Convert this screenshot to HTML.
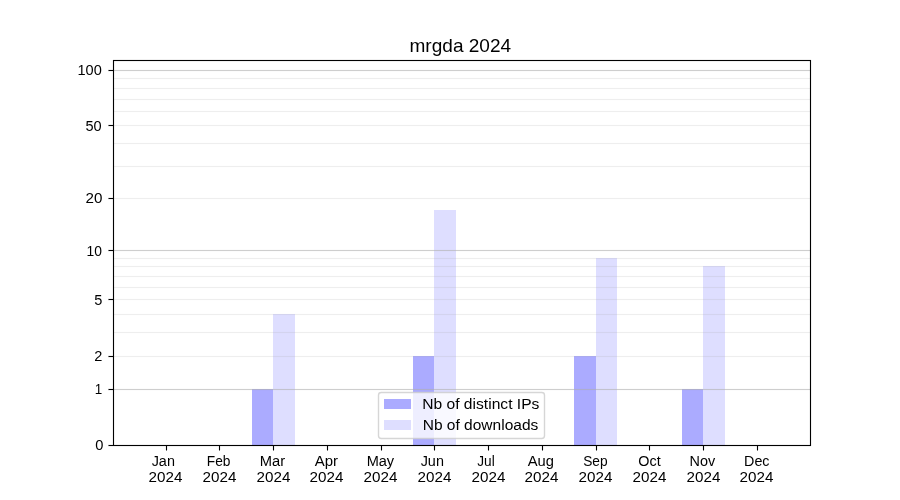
<!DOCTYPE html>
<html lang="en">
<head>
<meta charset="utf-8">
<title>mrgda 2024</title>
<style>
html,body{margin:0;padding:0;background:#fff}
body{position:relative;width:900px;height:500px;overflow:hidden;font-family:"Liberation Sans",sans-serif;color:#000}
#chart{position:absolute;left:0;top:0;display:block}
.t{position:absolute;left:0;top:0;margin:0;white-space:pre;line-height:1;transform-origin:0 0;font-weight:400}
#labels{position:absolute;left:0;top:0;width:900px;height:500px;will-change:transform}
.f14{font-size:14px}
.f17{font-size:17px}
</style>
</head>
<body>
<svg id="chart" width="900" height="500" viewBox="0 0 900 500">
<rect x="0" y="0" width="900" height="500" fill="#fff"/>
<g shape-rendering="crispEdges" fill="#0000ff">
<g fill-opacity="0.33">
<rect x="252" y="389" width="21" height="56"/>
<rect x="413" y="356" width="21" height="89"/>
<rect x="574" y="356" width="22" height="89"/>
<rect x="682" y="389" width="21" height="56"/>
</g>
<g fill-opacity="0.13">
<rect x="273" y="314" width="22" height="131"/>
<rect x="434" y="210" width="22" height="235"/>
<rect x="596" y="258" width="21" height="187"/>
<rect x="703" y="266" width="22" height="179"/>
</g>
</g>
<g shape-rendering="crispEdges" fill="#b0b0b0">
<g fill-opacity="0.6">
<rect x="113" y="70" width="698" height="1"/>
<rect x="113" y="250" width="698" height="1"/>
<rect x="113" y="389" width="698" height="1"/>
</g>
<g fill-opacity="0.035">
<rect x="113" y="69" width="698" height="3"/>
<rect x="113" y="249" width="698" height="3"/>
<rect x="113" y="388" width="698" height="3"/>
</g>
<g fill-opacity="0.2">
<rect x="113" y="78" width="698" height="1"/>
<rect x="113" y="88" width="698" height="1"/>
<rect x="113" y="99" width="698" height="1"/>
<rect x="113" y="111" width="698" height="1"/>
<rect x="113" y="125" width="698" height="1"/>
<rect x="113" y="143" width="698" height="1"/>
<rect x="113" y="166" width="698" height="1"/>
<rect x="113" y="198" width="698" height="1"/>
<rect x="113" y="258" width="698" height="1"/>
<rect x="113" y="266" width="698" height="1"/>
<rect x="113" y="276" width="698" height="1"/>
<rect x="113" y="287" width="698" height="1"/>
<rect x="113" y="299" width="698" height="1"/>
<rect x="113" y="314" width="698" height="1"/>
<rect x="113" y="332" width="698" height="1"/>
<rect x="113" y="356" width="698" height="1"/>
</g>
<g fill-opacity="0.012">
<rect x="113" y="77" width="698" height="3"/>
<rect x="113" y="87" width="698" height="3"/>
<rect x="113" y="98" width="698" height="3"/>
<rect x="113" y="110" width="698" height="3"/>
<rect x="113" y="124" width="698" height="3"/>
<rect x="113" y="142" width="698" height="3"/>
<rect x="113" y="165" width="698" height="3"/>
<rect x="113" y="197" width="698" height="3"/>
<rect x="113" y="257" width="698" height="3"/>
<rect x="113" y="265" width="698" height="3"/>
<rect x="113" y="275" width="698" height="3"/>
<rect x="113" y="286" width="698" height="3"/>
<rect x="113" y="298" width="698" height="3"/>
<rect x="113" y="313" width="698" height="3"/>
<rect x="113" y="331" width="698" height="3"/>
<rect x="113" y="355" width="698" height="3"/>
</g>
</g>
<g shape-rendering="crispEdges" fill="#000">
<rect x="166" y="445" width="1" height="5"/><rect x="166" y="450" width="1" height="1" fill-opacity="0.5"/><rect x="165" y="445" width="3" height="5" fill-opacity="0.055"/>
<rect x="219" y="445" width="1" height="5"/><rect x="219" y="450" width="1" height="1" fill-opacity="0.5"/><rect x="218" y="445" width="3" height="5" fill-opacity="0.055"/>
<rect x="273" y="445" width="1" height="5"/><rect x="273" y="450" width="1" height="1" fill-opacity="0.5"/><rect x="272" y="445" width="3" height="5" fill-opacity="0.055"/>
<rect x="327" y="445" width="1" height="5"/><rect x="327" y="450" width="1" height="1" fill-opacity="0.5"/><rect x="326" y="445" width="3" height="5" fill-opacity="0.055"/>
<rect x="381" y="445" width="1" height="5"/><rect x="381" y="450" width="1" height="1" fill-opacity="0.5"/><rect x="380" y="445" width="3" height="5" fill-opacity="0.055"/>
<rect x="434" y="445" width="1" height="5"/><rect x="434" y="450" width="1" height="1" fill-opacity="0.5"/><rect x="433" y="445" width="3" height="5" fill-opacity="0.055"/>
<rect x="488" y="445" width="1" height="5"/><rect x="488" y="450" width="1" height="1" fill-opacity="0.5"/><rect x="487" y="445" width="3" height="5" fill-opacity="0.055"/>
<rect x="542" y="445" width="1" height="5"/><rect x="542" y="450" width="1" height="1" fill-opacity="0.5"/><rect x="541" y="445" width="3" height="5" fill-opacity="0.055"/>
<rect x="596" y="445" width="1" height="5"/><rect x="596" y="450" width="1" height="1" fill-opacity="0.5"/><rect x="595" y="445" width="3" height="5" fill-opacity="0.055"/>
<rect x="649" y="445" width="1" height="5"/><rect x="649" y="450" width="1" height="1" fill-opacity="0.5"/><rect x="648" y="445" width="3" height="5" fill-opacity="0.055"/>
<rect x="703" y="445" width="1" height="5"/><rect x="703" y="450" width="1" height="1" fill-opacity="0.5"/><rect x="702" y="445" width="3" height="5" fill-opacity="0.055"/>
<rect x="757" y="445" width="1" height="5"/><rect x="757" y="450" width="1" height="1" fill-opacity="0.5"/><rect x="756" y="445" width="3" height="5" fill-opacity="0.055"/>
<rect x="109" y="70" width="4" height="1"/><rect x="108" y="70" width="1" height="1" fill-opacity="0.5"/><rect x="108" y="69" width="5" height="3" fill-opacity="0.055"/>
<rect x="109" y="125" width="4" height="1"/><rect x="108" y="125" width="1" height="1" fill-opacity="0.5"/><rect x="108" y="124" width="5" height="3" fill-opacity="0.055"/>
<rect x="109" y="198" width="4" height="1"/><rect x="108" y="198" width="1" height="1" fill-opacity="0.5"/><rect x="108" y="197" width="5" height="3" fill-opacity="0.055"/>
<rect x="109" y="250" width="4" height="1"/><rect x="108" y="250" width="1" height="1" fill-opacity="0.5"/><rect x="108" y="249" width="5" height="3" fill-opacity="0.055"/>
<rect x="109" y="299" width="4" height="1"/><rect x="108" y="299" width="1" height="1" fill-opacity="0.5"/><rect x="108" y="298" width="5" height="3" fill-opacity="0.055"/>
<rect x="109" y="356" width="4" height="1"/><rect x="108" y="356" width="1" height="1" fill-opacity="0.5"/><rect x="108" y="355" width="5" height="3" fill-opacity="0.055"/>
<rect x="109" y="389" width="4" height="1"/><rect x="108" y="389" width="1" height="1" fill-opacity="0.5"/><rect x="108" y="388" width="5" height="3" fill-opacity="0.055"/>
<rect x="109" y="445" width="4" height="1"/><rect x="108" y="445" width="1" height="1" fill-opacity="0.5"/><rect x="108" y="444" width="5" height="3" fill-opacity="0.055"/>
<g fill-opacity="0.058"><rect x="113" y="59" width="698" height="1"/><rect x="114" y="61" width="696" height="1"/><rect x="114" y="444" width="696" height="1"/><rect x="113" y="446" width="698" height="1"/><rect x="112" y="60" width="1" height="386"/><rect x="114" y="61" width="1" height="384"/><rect x="809" y="61" width="1" height="384"/><rect x="811" y="60" width="1" height="386"/></g>
<rect x="113" y="60" width="698" height="1"/><rect x="113" y="445" width="698" height="1"/><rect x="113" y="60" width="1" height="386"/><rect x="810" y="60" width="1" height="386"/>
</g>
<rect x="378.5" y="392.5" width="166" height="46" rx="2.8" ry="2.8" fill="#fff" fill-opacity="0.8" stroke="#ccc" stroke-opacity="0.8" stroke-width="1.39"/>
<g shape-rendering="crispEdges" fill="#0000ff"><rect x="384" y="399" width="27" height="10" fill-opacity="0.33"/><rect x="384" y="420" width="27" height="10" fill-opacity="0.13"/></g>
</svg>
<div id="labels">
<div class="t f17" id="title" style="transform:translate(409.51px,36.57px) scale(1.1202,1.1220)">mrgda 2024</div>
<div class="t f14" id="y100" style="transform:translate(77.50px,62.02px) scale(1.0400,1.0400)">100</div>
<div class="t f14" id="y50" style="transform:translate(85.43px,118.02px) scale(1.0400,1.0400)">50</div>
<div class="t f14" id="y20" style="transform:translate(85.51px,190.02px) scale(1.0857,1.0400)">20</div>
<div class="t f14" id="y10" style="transform:translate(86.59px,243.02px) scale(0.9910,1.0400)">10</div>
<div class="t f14" id="y5" style="transform:translate(94.35px,292.52px) scale(1.0400,1.0400)">5</div>
<div class="t f14" id="y2" style="transform:translate(94.28px,348.52px) scale(1.0400,1.0400)">2</div>
<div class="t f14" id="y1" style="transform:translate(94.76px,381.52px) scale(0.9606,1.0400)">1</div>
<div class="t f14" id="y0" style="transform:translate(95.32px,437.52px) scale(1.0500,1.0400)">0</div>
<div class="t f14" id="mJan" style="transform:translate(151.67px,453.24px) scale(1.0286,1.0300)">Jan</div>
<div class="t f14" id="nJan" style="transform:translate(148.49px,469.52px) scale(1.0880,1.0400)">2024</div>
<div class="t f14" id="mFeb" style="transform:translate(206.83px,453.24px) scale(0.9814,1.0300)">Feb</div>
<div class="t f14" id="nFeb" style="transform:translate(202.49px,469.52px) scale(1.0880,1.0400)">2024</div>
<div class="t f14" id="mMar" style="transform:translate(259.74px,453.24px) scale(1.0522,1.0300)">Mar</div>
<div class="t f14" id="nMar" style="transform:translate(256.49px,469.52px) scale(1.0880,1.0400)">2024</div>
<div class="t f14" id="mApr" style="transform:translate(314.74px,453.24px) scale(1.0685,1.0300)">Apr</div>
<div class="t f14" id="nApr" style="transform:translate(309.49px,469.52px) scale(1.0880,1.0400)">2024</div>
<div class="t f14" id="mMay" style="transform:translate(366.63px,453.24px) scale(1.0400,1.0300)">May</div>
<div class="t f14" id="nMay" style="transform:translate(363.49px,469.52px) scale(1.0880,1.0400)">2024</div>
<div class="t f14" id="mJun" style="transform:translate(420.67px,453.24px) scale(1.0286,1.0300)">Jun</div>
<div class="t f14" id="nJun" style="transform:translate(417.49px,469.52px) scale(1.0880,1.0400)">2024</div>
<div class="t f14" id="mJul" style="transform:translate(477.23px,453.24px) scale(0.9750,1.0300)">Jul</div>
<div class="t f14" id="nJul" style="transform:translate(471.49px,469.52px) scale(1.0880,1.0400)">2024</div>
<div class="t f14" id="mAug" style="transform:translate(527.69px,453.24px) scale(1.0521,1.0300)">Aug</div>
<div class="t f14" id="nAug" style="transform:translate(524.49px,469.52px) scale(1.0880,1.0400)">2024</div>
<div class="t f14" id="mSep" style="transform:translate(583.13px,453.24px) scale(0.9804,1.0300)">Sep</div>
<div class="t f14" id="nSep" style="transform:translate(578.49px,469.52px) scale(1.0880,1.0400)">2024</div>
<div class="t f14" id="mOct" style="transform:translate(638.26px,453.24px) scale(1.0267,1.0300)">Oct</div>
<div class="t f14" id="nOct" style="transform:translate(632.49px,469.52px) scale(1.0880,1.0400)">2024</div>
<div class="t f14" id="mNov" style="transform:translate(689.60px,453.24px) scale(1.0294,1.0300)">Nov</div>
<div class="t f14" id="nNov" style="transform:translate(686.49px,469.52px) scale(1.0880,1.0400)">2024</div>
<div class="t f14" id="mDec" style="transform:translate(744.07px,453.24px) scale(1.0226,1.0300)">Dec</div>
<div class="t f14" id="nDec" style="transform:translate(739.49px,469.52px) scale(1.0880,1.0400)">2024</div>
<div class="t f14" id="l1" style="transform:translate(422.18px,396.00px) scale(1.1160,1.0500)">Nb of distinct IPs</div>
<div class="t f14" id="l2" style="transform:translate(422.69px,417.00px) scale(1.1085,1.0500)">Nb of downloads</div>
</div>
</body>
</html>
